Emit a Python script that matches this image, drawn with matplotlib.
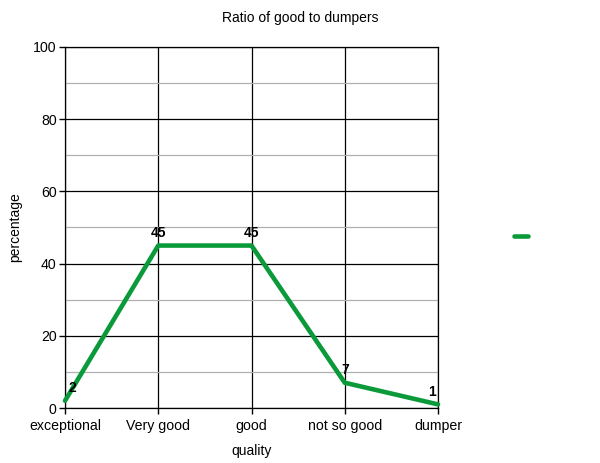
import matplotlib
matplotlib.use("Agg")
import matplotlib.pyplot as plt
from matplotlib.lines import Line2D

categories = ["exceptional", "Very good", "good", "not so good", "dumper"]
values = [2, 45, 45, 7, 1]
yticks = [0, 20, 40, 60, 80, 100]
minor_yticks = [10, 30, 50, 70, 90]

plt.rcParams['font.family'] = ['Liberation Sans', 'DejaVu Sans']
green = "#0a9a3a"

fig = plt.figure(figsize=(6, 4.63), dpi=100)
ax = fig.add_axes([65/600, 1-408/463, (438-65)/600, (408-47)/463])
x = list(range(len(categories)))
ax.plot(x, values, color=green, lw=3.3, solid_capstyle='round', solid_joinstyle='round', zorder=3, clip_on=False)
label_dx = [5, 0, 0, 0, -4.5]
for xi, v, dx in zip(x, values, label_dx):
    ax.annotate(str(v), (xi, v), xytext=(dx, 4), textcoords='offset points',
                ha='center', va='bottom', fontsize=10, fontweight='bold', zorder=4)

ax.set_xlim(0, len(categories)-1)
ax.set_ylim(0, 100)
ax.set_xticks(x)
ax.set_xticklabels(categories, fontsize=10.2)
ax.set_yticks(yticks)
ax.set_yticks(minor_yticks, minor=True)
ax.tick_params(axis='y', which='minor', length=0)
ax.tick_params(axis='both', which='major', length=4, width=1, color='black', labelsize=10.2, pad=2)
ax.tick_params(axis='x', which='major', pad=4)
ax.grid(True, which='major', color='black', lw=0.9)
ax.grid(True, which='minor', axis='y', color='#b0b0b0', lw=0.9)
ax.set_axisbelow(True)
for s in ax.spines.values():
    s.set_color('black')
    s.set_linewidth(0.9)
ax.set_xlabel("quality", fontsize=10, labelpad=8)
ax.set_ylabel("percentage", fontsize=10, labelpad=8)
fig.text(300/600, 1-18/463, "Ratio of good to dumpers", ha='center', va='center', fontsize=10)

fig.add_artist(Line2D([514/600, 528/600], [1-236/463, 1-236/463], color=green, lw=3.3,
                      solid_capstyle='round', transform=fig.transFigure))
fig.savefig("out.png", dpi=100)
